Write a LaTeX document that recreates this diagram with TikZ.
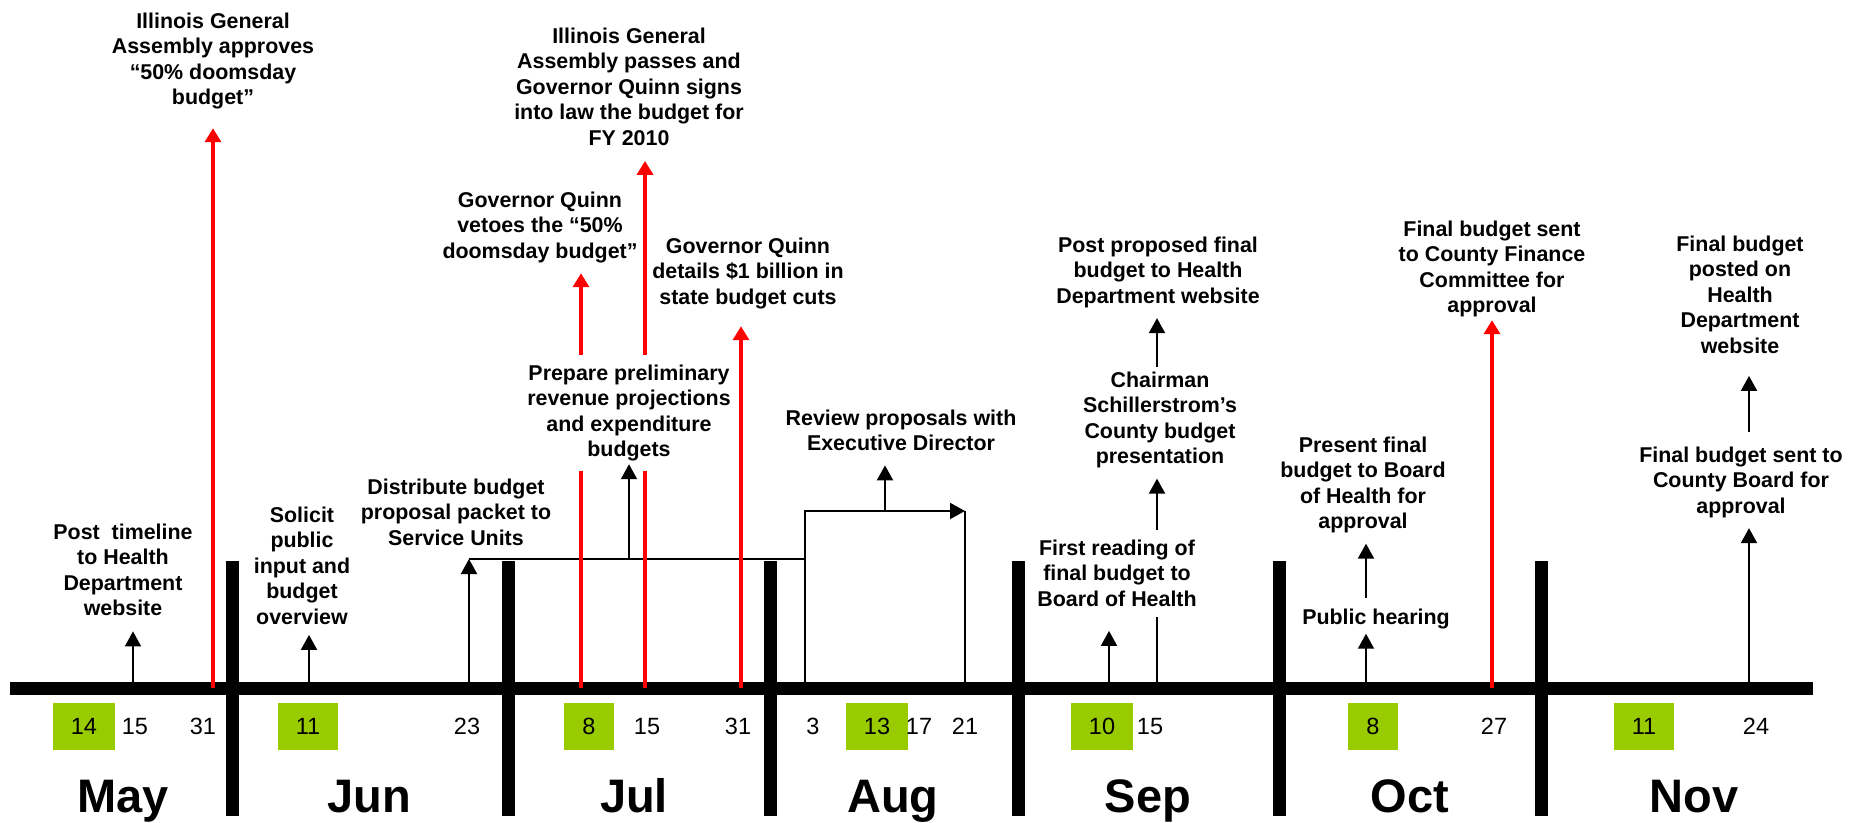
\documentclass[tikz,border=0pt]{standalone}
\usepackage{fontspec}
\setmainfont{Liberation Sans}
\usepackage{tikz}
\usetikzlibrary{arrows.meta}
\definecolor{dategreen}{RGB}{153,204,0}
\begin{document}
\begin{tikzpicture}[x=0.5pt,y=-0.5pt,
                    event text/.style={align=center,anchor=north,
                                       inner xsep=1pt,inner ysep=5pt,
                                       font=\bfseries\fontsize{10.7}{12.75}\selectfont},
                    cover/.style={fill=white},
                    day/.style={font=\fontsize{11.75}{14}\selectfont,
                                minimum height=23.5pt,inner xsep=9pt,inner ysep=0pt},
                    green day/.style={day,fill=dategreen},
                    month/.style={anchor=base,font=\bfseries\fontsize{23.5}{28}\selectfont},
                    milestone/.style={line width=1pt,-{Triangle[width=8pt,length=7.5pt]}},
                    link/.style={line width=1pt},
                    state news/.style={red,line width=2.3pt,-{Triangle[width=8pt,length=7pt]}},
                    month rule/.style={line width=6.5pt},
                    time bar/.style={line width=6.5pt}]
\useasboundingbox (0,0) rectangle (1864,823);
% Let us start with the dates on the time bar:
\foreach \d/\x in {may 15/133,may 31/213,jun 11/309,jun 23/469,jul 8/581,jul 15/645,
                   jul 31/741,aug 3/805,aug 21/965,sep 10/1109,sep 15/1157,oct 8/1366,
                   oct 27/1492,nov 24/1749}
{
      \coordinate (\d) at (\x,688);
}
\coordinate (tl start) at (10,688.5);
\coordinate (tl end) at (1813,688.5);
\coordinate (packet) at (469,559);
\coordinate (review foot) at (885,511);
\coordinate (review end) at (965,511);
%
\node [event text] (approves) at (213,2.4) {Illinois General\\Assembly approves\\“50\% doomsday\\budget”};
\node [event text] (passes) at (629,17.4) {Illinois General\\Assembly passes and\\Governor Quinn signs\\into law the budget for\\FY 2010};
\node [event text] (vetoes) at (540,181.4) {Governor Quinn\\vetoes the “50\%\\doomsday budget”};
\node [event text] (cuts) at (748,227.4) {Governor Quinn\\details \$1 billion in\\state budget cuts};
\node [event text] (review) at (901,399.4) {Review proposals with\\Executive Director};
\node [event text] (distribute) at (456,468.4) {Distribute budget\\proposal packet to\\Service Units};
\node [event text] (post) at (123,513.4) {Post\ \ timeline\\to Health\\Department\\website};
\node [event text] (solicit) at (302,496.4) {Solicit\\public\\input and\\budget\\overview};
\node [event text] (chair) at (1160,361.4) {Chairman\\Schillerstrom’s\\County budget\\presentation};
\node [event text] (proposed) at (1158,226.4) {Post proposed final\\budget to Health\\Department website};
\node [event text] (hearing) at (1376,598.4) {Public hearing};
\node [event text] (present) at (1363,426.4) {Present final\\budget to Board\\of Health for\\approval};
\node [event text] (finance) at (1492,210.4) {Final budget sent\\to County Finance\\Committee for\\approval};
\node [event text] (board) at (1741,436.4) {Final budget sent to\\County Board for\\approval};
\node [event text] (posted) at (1740,225.4) {Final budget\\posted on\\Health\\Department\\website};
%
\draw [milestone,shorten >=2.5pt] (may 15) -- (may 15 |- post.south);
\draw [milestone] (jun 11) -- (jun 11 |- solicit.south);
\draw [milestone] (jun 23) -- (packet);
\draw [link] (packet) -- (aug 3 |- packet);
\draw [milestone] (aug 3) |- (review end);
\draw [link] (review end) -- (aug 21);
\draw [milestone,shorten >=2pt] (review foot) -- (review foot |- review.south);
\draw [milestone] (sep 15) -- (sep 15 |- chair.south);
\draw [milestone,shorten <=-2.75pt] (sep 15 |- chair.north) -- (sep 15 |- proposed.south);
\draw [milestone,shorten >=-2.75pt] (oct 8) -- (oct 8 |- hearing.south);
\draw [milestone] (oct 8 |- hearing.north) -- (oct 8 |- present.south);
\draw [milestone] (nov 24) -- (nov 24 |- board.south);
\draw [milestone,shorten <=2.2pt,shorten >=6pt] (nov 24 |- board.north) -- (nov 24 |- posted.south);
%
\draw [time bar] (tl start) -- (tl end);
\foreach \x in {232,508,770,1018,1279.5,1541}
      \draw [month rule] (\x,561) -- (\x,816);
%
\draw [state news,shorten >=4.25pt] (may 31) -- (may 31 |- approves.south);
\draw [state news] (jul 8) -- (jul 8 |- vetoes.south);
\draw [state news,shorten >=2.5pt] (jul 15) -- (jul 15 |- passes.south);
\draw [state news,shorten >=3.5pt] (jul 31) -- (jul 31 |- cuts.south);
\draw [state news,shorten >=-3.75pt] (oct 27) -- (oct 27 |- finance.south);
%
\node [event text,cover] (prep) at (629,354.4) {Prepare preliminary\\revenue projections\\and expenditure\\budgets};
\node [event text,cover] (first) at (1117,529.4) {First reading of\\final budget to\\Board of Health};
\draw [milestone,shorten >=-3.75pt] (prep.south |- packet) -- (prep.south);
\draw [milestone,shorten >=7pt] (sep 10) -- (sep 10 |- first.south);
%
\foreach \n/\d/\x in {1/14/84,2/11/308,3/8/589,4/13/877,5/10/1102,6/8/1373,7/11/1644}
      \node [green day] (green \n) at (\x,726.5) {\d};
\foreach \n/\d/\x in {1/15/135,2/31/203,3/23/467,4/15/647,5/31/738,6/3/813,
                      7/17/919,8/21/965,9/15/1150,10/27/1494,11/24/1756}
      \node [day] (day \n) at (\x,726.5) {\d};
\foreach \m/\x in {May/123,Jun/369,Jul/634,Aug/893,Sep/1148,Oct/1410,Nov/1694}
      \node [month] (month \m) at (\x,812) {\m};
\end{tikzpicture}
\end{document}
